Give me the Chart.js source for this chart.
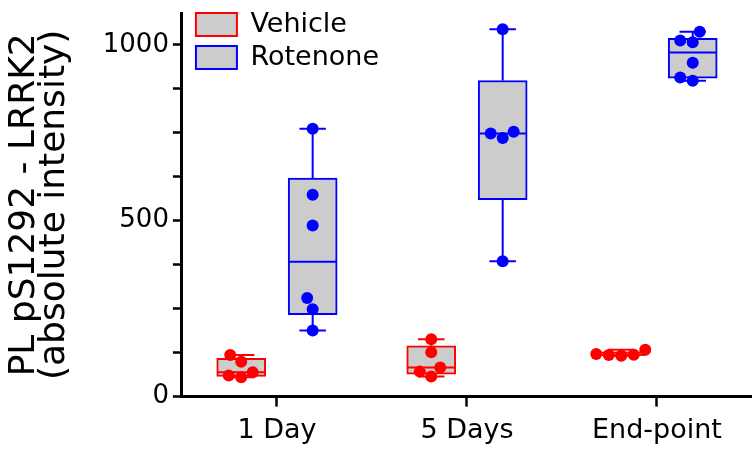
<!DOCTYPE html>
<html><head><meta charset="utf-8">
<script src="https://cdn.jsdelivr.net/npm/chart.js@4/dist/chart.umd.min.js"></script>
<style>html,body{margin:0;padding:0;background:#fff}</style>
</head><body>
<canvas id="c" width="752" height="452"></canvas>
<script>
// ---- data ----
const categories = ['1 Day', '5 Days', 'End-point'];
const seriesNames = ['Vehicle', 'Rotenone'];
const vehicleDay1 = [118, 99, 69, 60, 55];
const vehicleDay5 = [163, 126, 83, 71, 57];
const vehicleEnd = [133, 121, 119, 118, 116];
const rotenoneDay1 = [761, 574, 486, 280, 248, 188];
const rotenoneDay5 = [1044, 753, 748, 735, 385];
const rotenoneEnd = [1037, 1012, 1007, 949, 907, 898];
const yTickLabels = [0, 500, 1000];
const yMinorStep = 125;
const yMax = 1090;

const vehicleGroups = [vehicleDay1, vehicleDay5, vehicleEnd];
const rotenoneGroups = [rotenoneDay1, rotenoneDay5, rotenoneEnd];
const groups = [vehicleGroups, rotenoneGroups];
const colors = ['#ff0000', '#0000ff'];
const dodge = [-0.188, 0.188];      // side-by-side placement of the two series within a category
const FONT = 'DejaVu Sans';
const pointRadius = 6;

function quantile(s, p) {
  const n = s.length;
  const pos = p * (n + 1) - 1;
  if (pos <= 0) return s[0];
  if (pos >= n - 1) return s[n - 1];
  const lo = Math.floor(pos), f = pos - lo;
  return s[lo] + f * (s[lo + 1] - s[lo]);
}
function stats(vals) {
  const s = [...vals].sort((a, b) => a - b);
  return { min: s[0], q1: quantile(s, 0.25), med: quantile(s, 0.5), q3: quantile(s, 0.75), max: s[s.length - 1] };
}

function swarm(ys, r) {
  const order = ys.map((y, i) => i).sort((a, b) => ys[b] - ys[a]);
  const placed = [];
  const dx = new Array(ys.length).fill(0);
  const d = 2 * r + 0.5;
  for (const i of order) {
    const y = ys[i];
    let best = null;
    for (let k = 0; k <= 400 && best === null; k++) {
      for (const sg of (k === 0 ? [1] : [-1, 1])) {
        const x = sg * k * 0.5;
        if (placed.every(p => (p.x - x) ** 2 + (p.y - y) ** 2 >= d * d)) { best = x; break; }
      }
    }
    dx[i] = best; placed.push({ x: best, y });
  }
  return dx;
}

const boxPlugin = {
  id: 'boxWhiskers',
  afterDatasetDraw(chart, args) {
    const ds = chart.data.datasets[args.index];
    if (!ds.boxStats) return;
    const y = chart.scales.y, ctx = chart.ctx;
    args.meta.data.forEach((bar, j) => {
      const s = ds.boxStats[j];
      const cx = bar.x, half = bar.width / 2, cap = bar.width * 0.27;
      const p = v => y.getPixelForValue(v);
      ctx.save();
      ctx.strokeStyle = ds.borderColor;
      ctx.lineWidth = 2;
      ctx.beginPath();
      ctx.moveTo(cx - half + 1, p(s.med)); ctx.lineTo(cx + half - 1, p(s.med));
      ctx.moveTo(cx, p(s.q3)); ctx.lineTo(cx, p(s.max));
      ctx.moveTo(cx - cap, p(s.max)); ctx.lineTo(cx + cap, p(s.max));
      ctx.moveTo(cx, p(s.q1)); ctx.lineTo(cx, p(s.min));
      ctx.moveTo(cx - cap, p(s.min)); ctx.lineTo(cx + cap, p(s.min));
      ctx.stroke();
      ctx.restore();
    });
  }
};
const legendNudge = {
  id: 'legendNudge',
  afterLayout(chart) { const l = chart.legend; if (l) { l.left += 8; l.top += 5; } }
};

const barDatasets = groups.map((g, s) => {
  const st = g.map(stats);
  return {
    type: 'bar', label: seriesNames[s],
    data: st.map((v, j) => ({ x: j + dodge[s], y: [v.q1, v.q3] })),
    boxStats: st, grouped: false, barThickness: 49,
    backgroundColor: '#cccccc', borderColor: colors[s], borderWidth: 2, borderSkipped: false,
    order: 2
  };
});
const pointDatasets = groups.map((g, s) => ({
  type: 'scatter', label: seriesNames[s] + ' points',
  data: g.flatMap((vals, j) => vals.map(v => ({ x: j + dodge[s], y: v }))),
  backgroundColor: colors[s], borderColor: colors[s], borderWidth: 0,
  pointRadius: pointRadius, pointHoverRadius: pointRadius, order: 1
}));

const chart = new Chart(document.getElementById('c'), {
  type: 'bar',
  data: { datasets: [...barDatasets, ...pointDatasets] },
  plugins: [boxPlugin, legendNudge],
  options: {
    responsive: false, animation: false, devicePixelRatio: 1,
    layout: { autoPadding: false, padding: { left: 0, top: 13, right: 0, bottom: -4 } },
    plugins: {
      tooltip: { enabled: false },
      legend: {
        position: 'chartArea', align: 'start',
        labels: {
          boxWidth: 41, boxHeight: 23, padding: 6, color: '#000',
          font: { family: FONT, size: 27 },
          filter: item => item.datasetIndex < 2
        }
      }
    },
    scales: {
      x: {
        type: 'linear', min: -0.5, max: categories.length - 0.5, offset: false,
        afterBuildTicks: sc => { sc.ticks = categories.map((c, i) => ({ value: i })); },
        grid: { offset: false, drawOnChartArea: false, drawTicks: true, tickLength: 10, tickWidth: 2.5, tickColor: '#000' },
        border: { display: true, color: '#000', width: 3 },
        ticks: {
          color: '#000', padding: 8.5, maxRotation: 0, autoSkip: false,
          font: { family: FONT, size: 27, lineHeight: 1.2 },
          callback: v => categories[v]
        }
      },
      y: {
        min: 0, max: yMax,
        afterBuildTicks: sc => { sc.ticks = sc.ticks.filter(t => t.value % yMinorStep === 0); },
        ticks: {
          stepSize: yMinorStep, autoSkip: false, color: '#000', padding: 4,
          font: { family: FONT, size: 26, lineHeight: 0.7 },
          callback: v => yTickLabels.includes(v) ? String(v) : ''
        },
        grid: { drawOnChartArea: false, drawTicks: true, tickLength: 9, tickWidth: 2.5, tickColor: '#000' },
        border: { display: true, color: '#000', width: 3 },
        title: {
          display: true, text: ['PL pS1292 - LRRK2', '(absolute intensity)'], color: '#000',
          font: { family: FONT, size: 36, lineHeight: 0.83 }, padding: { top: 10, bottom: 29 }
        }
      }
    }
  }
});

function layoutPoints() {
  const y = chart.scales.y, x = chart.scales.x;
  groups.forEach((g, s) => {
    const barMeta = chart.getDatasetMeta(s);
    const pts = [];
    g.forEach((vals, j) => {
      const cx = barMeta.data[j].x;
      const dx = swarm(vals.map(v => y.getPixelForValue(v)), pointRadius);
      vals.forEach((v, k) => pts.push({ x: x.getValueForPixel(cx + dx[k]), y: v }));
    });
    chart.data.datasets[2 + s].data = pts;
  });
  chart.update('none');
}
layoutPoints();
</script>
</body></html>
